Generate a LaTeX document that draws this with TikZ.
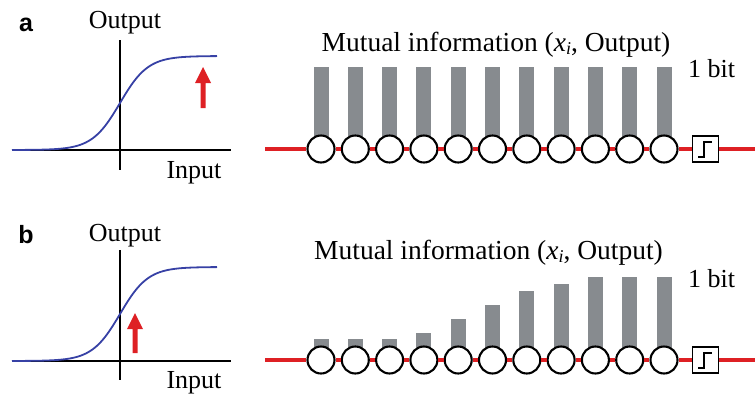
\documentclass[tikz,border=0pt]{standalone}
\usepackage{fontspec}
\setmainfont{Liberation Serif}
\newfontfamily\lblfont{Liberation Sans}
\definecolor{sigblue}{RGB}{55,65,165}
\definecolor{wirered}{RGB}{222,32,36}
\definecolor{bargray}{RGB}{135,139,143}
\begin{document}
\begin{tikzpicture}[x=1pt,y=-1pt,
  txt/.style={font=\fontsize{26}{30}\selectfont, inner sep=0pt, anchor=base},
  mtxt/.style={font=\fontsize{27.5}{30}\selectfont, inner sep=0pt, anchor=base},
  lbl/.style={font=\lblfont\bfseries\fontsize{25}{30}\selectfont, inner sep=0pt},
  axis/.style={line width=1.4pt, black},
  curve/.style={line width=1.8pt, sigblue},
  neuron/.style={circle, draw=black, line width=2.1pt, fill=white, minimum size=27pt, inner sep=0pt},
  swbox/.style={draw=black, line width=1.7pt, fill=white, minimum size=26pt, inner sep=0pt},
  wire/.style={line width=3.3pt, wirered},
  bar/.style={fill=bargray, draw=none},
  uparrow/.style={fill=wirered, draw=none}]
\useasboundingbox (0,0) rectangle (755,397);

% ---------- panel a ----------
\node[lbl] (la) at (26,25) {a};
\draw[axis] (12,150) -- (231,150);
\draw[axis] (120,40) -- (120,170);
\draw[curve] plot[domain=12:217,samples=120] (\x,{150-94/(1+exp(-(\x-120)/14))});
\fill[uparrow] (200.5,108) -- (200.5,83) -- (195,83) -- (203,67) -- (211,83) -- (205.5,83) -- (205.5,108) -- cycle;
\node[txt] (oa) at (125,28) {Output};
\node[txt] (ia) at (194,178) {Input};

\node[mtxt] (ma) at (496,51) {Mutual information (\textit{x}\raisebox{-0.28ex}{\fontsize{18}{18}\selectfont\textit{i}}, Output)};
\node[txt] (ba) at (711.5,77) {1 bit};
\foreach \i in {0,...,10} {
  \fill[bar] ({321+34.3*\i-7.5},67) rectangle ({321+34.3*\i+7.5},149);
}
\foreach \i in {1,...,11} {
  \node[neuron] (a\i) at ({321+34.3*(\i-1)},149) {};
}
\node[swbox] (asw) at (705.5,149) {};
\draw[line width=1.4pt] ([shift={(-7.5,8)}]asw.center) -- ++(6,0) -- ++(0,-15) -- ++(8,0);
\coordinate (aL) at (265,149);
\coordinate (aR) at (755,149);
\draw[wire] (aL) -- (a1);
\foreach \i [count=\j from 2] in {1,...,10} { \draw[wire] (a\i) -- (a\j); }
\draw[wire] (a11) -- (asw);
\draw[wire] (asw) -- (aR);

% ---------- panel b ----------
\node[lbl] (lb) at (26,235) {b};
\draw[axis] (12,361) -- (231,361);
\draw[axis] (120,250) -- (120,380);
\draw[curve] plot[domain=12:217,samples=120] (\x,{361-94/(1+exp(-(\x-120)/14))});
\fill[uparrow] (132.5,353) -- (132.5,329) -- (127,329) -- (135,313) -- (143,329) -- (137.5,329) -- (137.5,353) -- cycle;
\node[txt] (ob) at (125,241) {Output};
\node[txt] (ib) at (194,388) {Input};

\node[mtxt] (mb) at (488.5,259) {Mutual information (\textit{x}\raisebox{-0.28ex}{\fontsize{18}{18}\selectfont\textit{i}}, Output)};
\node[txt] (bb) at (711.5,287) {1 bit};
\foreach \t [count=\i from 0] in {339,339,339,333,319,305,291,284,277,277,277} {
  \fill[bar] ({321+34.3*\i-7.5},\t) rectangle ({321+34.3*\i+7.5},360);
}
\foreach \i in {1,...,11} {
  \node[neuron] (b\i) at ({321+34.3*(\i-1)},360) {};
}
\node[swbox] (bsw) at (705.5,360) {};
\draw[line width=1.4pt] ([shift={(-7.5,8)}]bsw.center) -- ++(6,0) -- ++(0,-15) -- ++(8,0);
\coordinate (bL) at (265,360);
\coordinate (bR) at (755,360);
\draw[wire] (bL) -- (b1);
\foreach \i [count=\j from 2] in {1,...,10} { \draw[wire] (b\i) -- (b\j); }
\draw[wire] (b11) -- (bsw);
\draw[wire] (bsw) -- (bR);
\end{tikzpicture}
\end{document}
